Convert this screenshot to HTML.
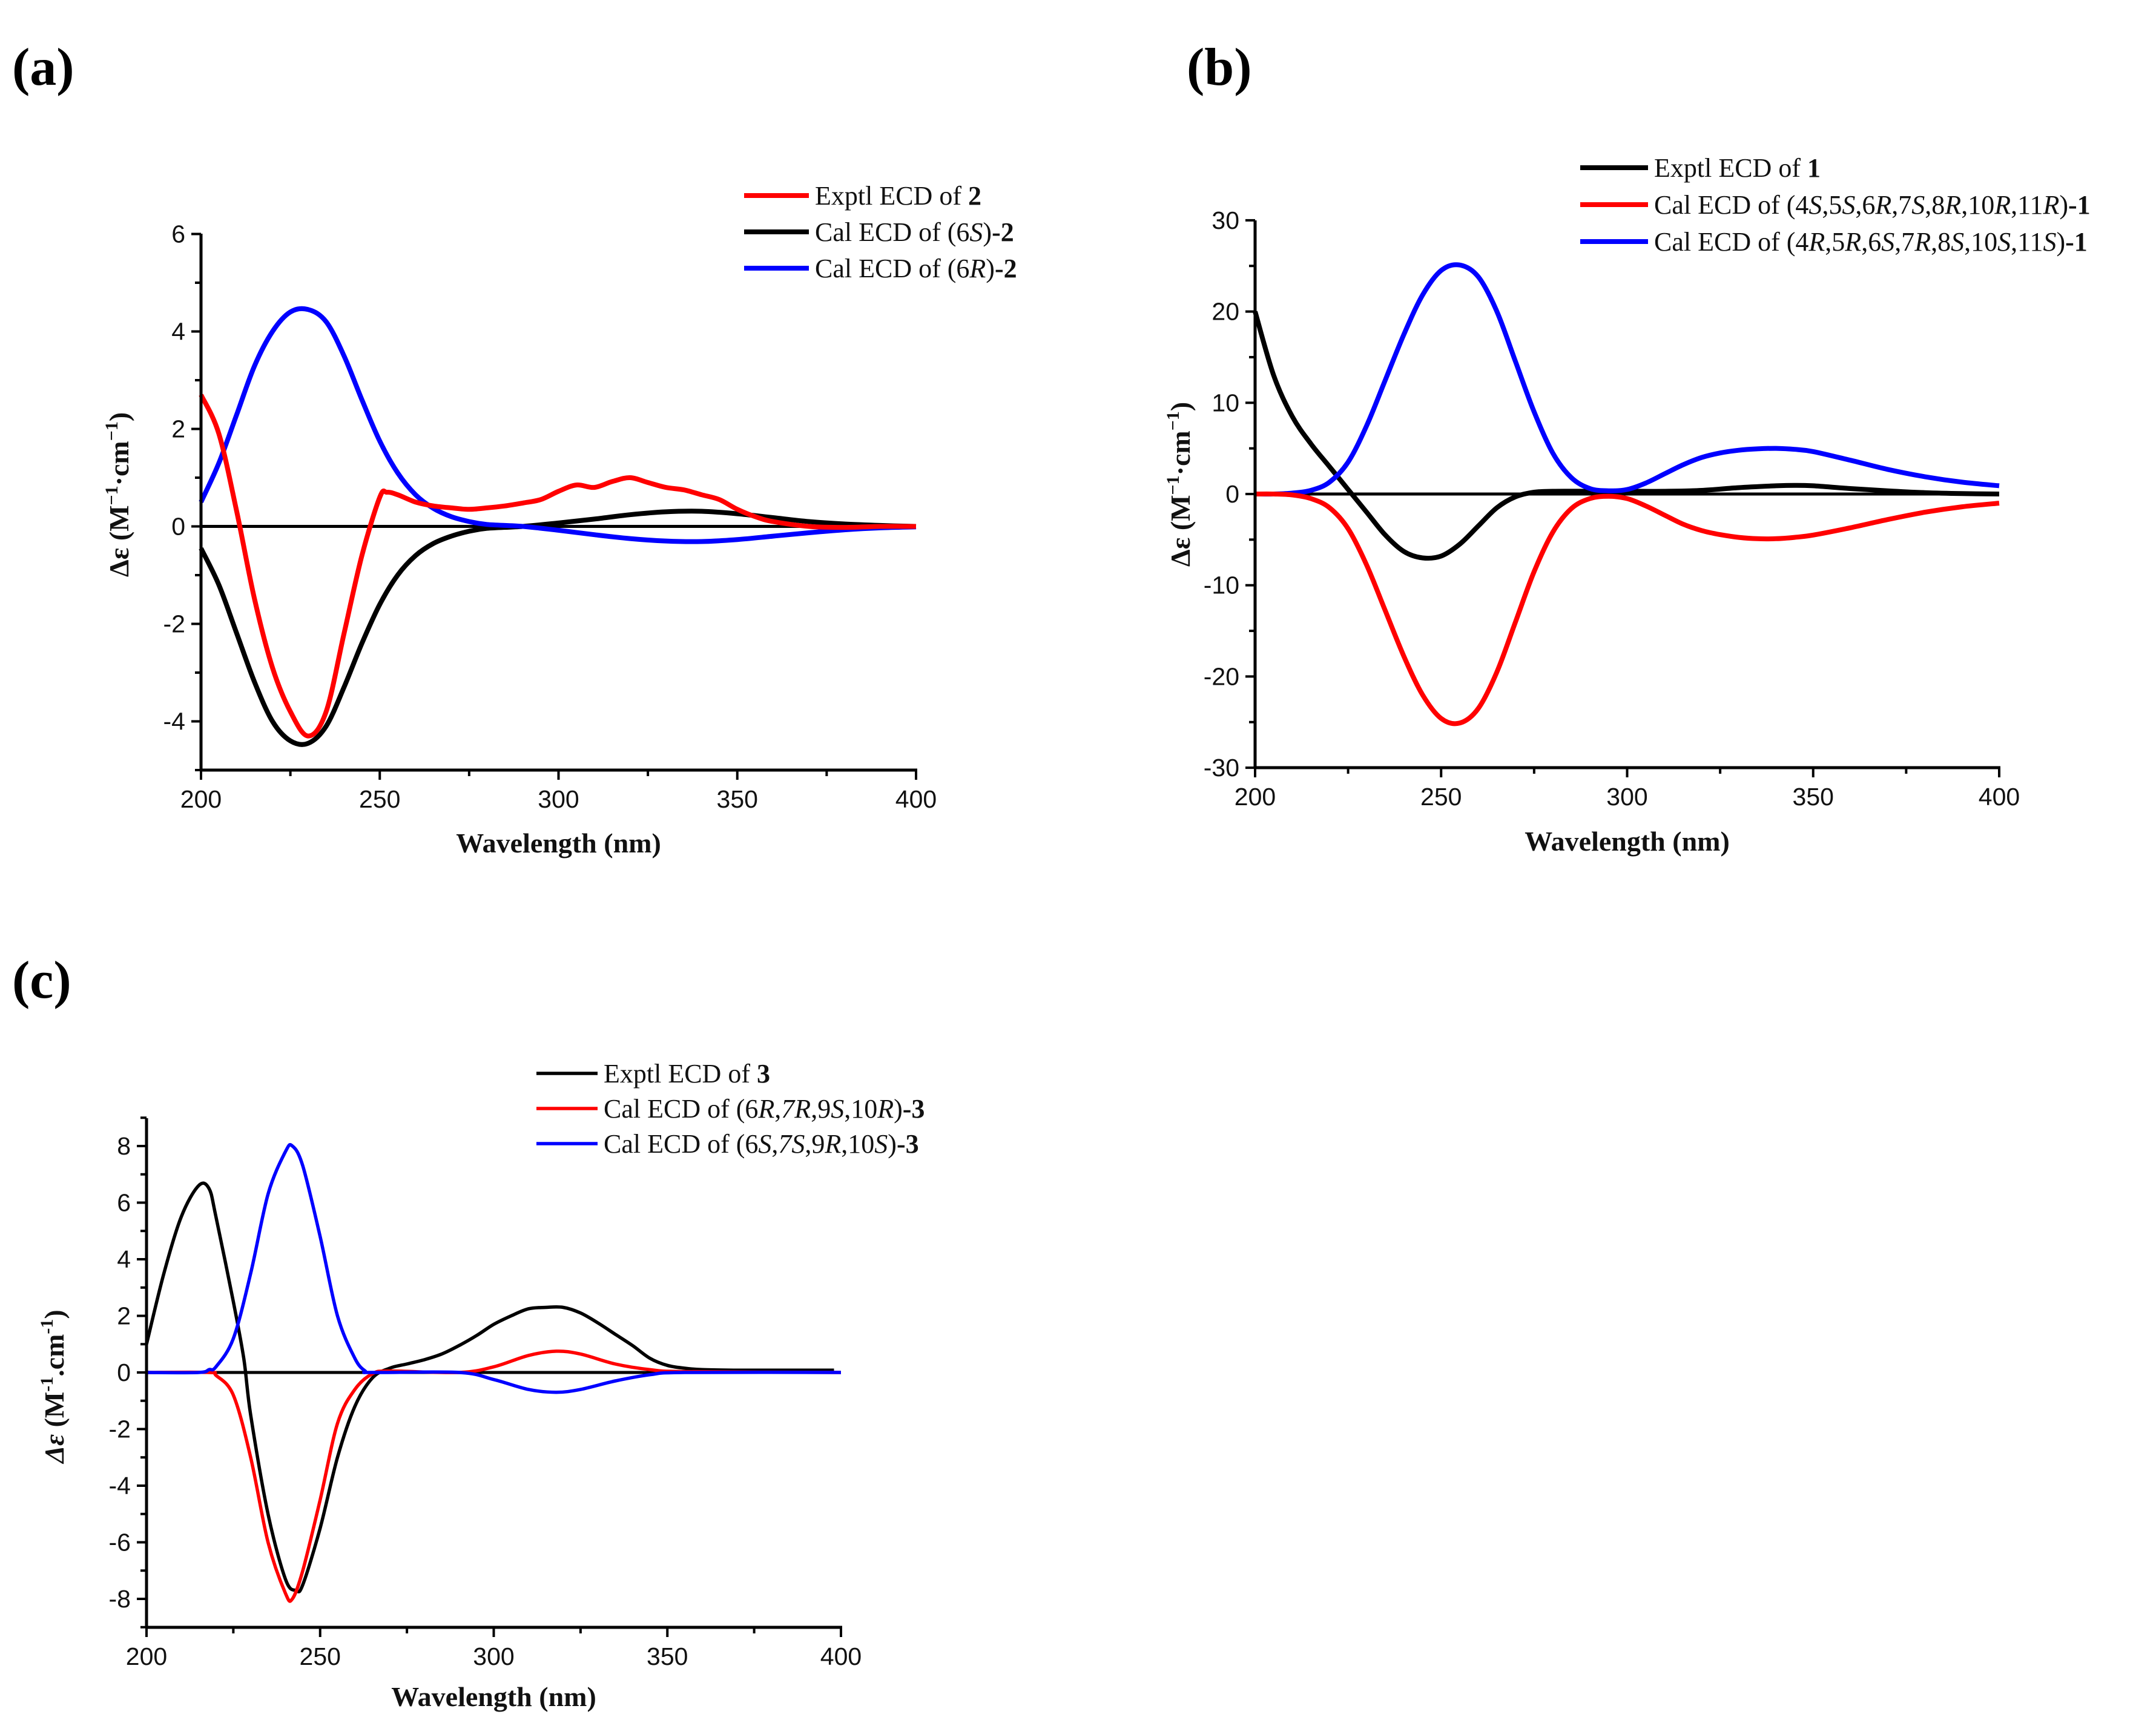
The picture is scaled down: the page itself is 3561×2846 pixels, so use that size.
<!DOCTYPE html>
<html><head><meta charset="utf-8">
<style>
html,body{margin:0;padding:0;background:#fff;}
svg{display:block;}
.tick{font-family:"Liberation Sans",Arial,sans-serif;font-size:41px;fill:#111;}
.leg{font-family:"Liberation Serif",serif;font-size:44px;fill:#111;}
.ttl{font-family:"Liberation Serif",serif;font-size:46px;font-weight:bold;fill:#111;}
.plab{font-family:"Liberation Serif",serif;font-size:88px;font-weight:bold;fill:#000;}
</style></head>
<body>
<svg id="fig" width="3561" height="2846" viewBox="0 0 3561 2846" xmlns="http://www.w3.org/2000/svg">
<text class="plab" x="20" y="140">(a)</text>
<text class="plab" x="1960" y="140">(b)</text>
<text class="plab" x="20" y="1648">(c)</text>
</svg>
<script>
// ---------- Panel (a) data ----------
const aRedX = [200,205,210,215,220,225,230,235,240,245,250,252,255,260,265,270,275,280,285,290,295,300,305,310,315,320,325,330,335,340,345,350,355,360,370,380,390,400];
const aRedY = [2.7,1.9,0.3,-1.5,-2.9,-3.8,-4.3,-3.8,-2.2,-0.6,0.6,0.7,0.65,0.5,0.42,0.38,0.35,0.38,0.42,0.48,0.55,0.72,0.85,0.8,0.92,1.0,0.9,0.8,0.75,0.65,0.55,0.35,0.2,0.1,0.0,-0.02,0.0,0.0];
const aBlackX = [200,205,210,215,220,225,230,235,240,245,250,255,260,265,270,275,280,290,300,310,320,330,340,350,360,370,380,390,400];
const aBlackY = [-0.45,-1.2,-2.2,-3.2,-4.0,-4.4,-4.45,-4.1,-3.3,-2.4,-1.6,-1.0,-0.6,-0.35,-0.2,-0.1,-0.04,0.0,0.07,0.15,0.24,0.3,0.31,0.26,0.18,0.1,0.05,0.02,0.0];
const aBlueX = [200,205,210,215,220,225,230,235,240,245,250,255,260,265,270,275,280,290,300,310,320,330,340,350,360,370,380,390,400];
const aBlueY = [0.5,1.3,2.3,3.3,4.0,4.4,4.45,4.2,3.5,2.6,1.75,1.1,0.65,0.37,0.2,0.1,0.04,0.0,-0.08,-0.17,-0.25,-0.3,-0.31,-0.27,-0.2,-0.13,-0.07,-0.03,-0.01];
const aYTicks = [-4,-2,0,2,4,6];
const aXTicks = [200,250,300,350,400];
// ---------- Panel (b) data ----------
const bBlackX = [200,205,210,215,220,225,230,235,240,245,250,255,260,265,270,275,280,290,300,310,320,330,340,345,350,360,370,380,390,400];
const bBlackY = [20,13,8.5,5.5,3,0.5,-2,-4.5,-6.3,-7,-6.8,-5.5,-3.5,-1.5,-0.3,0.2,0.3,0.3,0.3,0.3,0.4,0.7,0.9,0.95,0.9,0.6,0.35,0.15,0.05,0];
const bRedX = [200,205,210,215,220,225,230,235,240,245,250,255,260,265,270,275,280,285,290,295,300,305,310,315,320,325,330,335,340,345,350,360,370,380,390,400];
const bRedY = [0,0,-0.1,-0.5,-1.5,-3.8,-7.8,-12.8,-17.8,-22,-24.6,-25.1,-23.5,-19.5,-14,-8.5,-4.2,-1.6,-0.5,-0.25,-0.5,-1.3,-2.3,-3.3,-4.0,-4.45,-4.75,-4.9,-4.9,-4.75,-4.5,-3.7,-2.8,-2.0,-1.4,-1.0];
const bBlueX = [200,205,210,215,220,225,230,235,240,245,250,255,260,265,270,275,280,285,290,295,300,305,310,315,320,325,330,335,340,345,350,360,370,380,390,400];
const bBlueY = [0,0,0.1,0.4,1.3,3.5,7.5,12.5,17.5,21.8,24.5,25.1,23.8,20,14.5,9,4.5,1.8,0.6,0.35,0.5,1.2,2.2,3.2,4.0,4.5,4.8,4.95,5.0,4.9,4.65,3.7,2.7,1.9,1.3,0.9];
const bYTicks = [-30,-20,-10,0,10,20,30];
const bXTicks = [200,250,300,350,400];
// ---------- Panel (c) data ----------
const cBlackX = [200,205,210,215,218,220,225,228,230,235,240,243,245,250,255,260,265,270,275,280,285,290,295,300,305,310,315,320,325,330,335,340,345,350,355,360,370,380,390,398];
const cBlackY = [1.0,3.5,5.5,6.6,6.5,5.5,2.5,0.5,-1.5,-5.0,-7.3,-7.7,-7.5,-5.5,-3.0,-1.2,-0.2,0.15,0.3,0.45,0.65,0.95,1.3,1.7,2.0,2.25,2.3,2.3,2.1,1.75,1.35,0.95,0.5,0.25,0.15,0.1,0.08,0.08,0.08,0.08];
const cRedX = [200,218,220,225,230,235,240,242,245,250,255,260,265,270,290,300,310,318,325,335,345,355,400];
const cRedY = [0,0,-0.1,-0.8,-3.0,-6.0,-7.8,-8.0,-7.0,-4.5,-1.8,-0.6,-0.05,0.05,0,0.2,0.6,0.75,0.65,0.3,0.1,0.03,0];
const cBlueX = [200,215,218,220,225,230,235,240,242,245,250,255,260,263,265,290,300,310,318,325,335,345,355,400];
const cBlueY = [0,0,0.1,0.2,1.2,3.5,6.3,7.8,8.0,7.3,4.8,2.0,0.5,0.05,0,0,-0.25,-0.6,-0.7,-0.6,-0.3,-0.08,0,0];
const cYTicks = [-8,-6,-4,-2,0,2,4,6,8];
const cXTicks = [200,250,300,350,400];

const NS = "http://www.w3.org/2000/svg";
const svg = document.getElementById('fig');
function mk(tag, attrs, parent){
  const e = document.createElementNS(NS, tag);
  for (const k in attrs) e.setAttribute(k, attrs[k]);
  (parent||svg).appendChild(e);
  return e;
}
function smooth(pts){
  let d = "M" + pts[0][0].toFixed(1) + "," + pts[0][1].toFixed(1);
  for (let i=0;i<pts.length-1;i++){
    const p0 = pts[Math.max(0,i-1)], p1 = pts[i], p2 = pts[i+1], p3 = pts[Math.min(pts.length-1,i+2)];
    const c1x = p1[0]+(p2[0]-p0[0])/6, c1y = p1[1]+(p2[1]-p0[1])/6;
    const c2x = p2[0]-(p3[0]-p1[0])/6, c2y = p2[1]-(p3[1]-p1[1])/6;
    d += " C"+c1x.toFixed(1)+","+c1y.toFixed(1)+" "+c2x.toFixed(1)+","+c2y.toFixed(1)+" "+p2[0].toFixed(1)+","+p2[1].toFixed(1);
  }
  return d;
}
function panel(P){
  const g = mk('g', {});
  
  
  const sx = v => P.x0 + (v-200)/(200)*(P.x1-P.x0);
  const sy = v => P.yZero - v*P.ppu;
  const z = mk('line', {x1:P.x0, x2:P.x1, y1:sy(0), y2:sy(0), stroke:'#000', 'stroke-width':P.zw}, g);
  
  
  P.series.forEach(s=>{
    const pts = s.x.map((xv,i)=>[sx(xv), sy(s.y[i])]);
    const p = mk('path', {d:smooth(pts), fill:'none', stroke:s.c, 'stroke-width':P.lw, 'stroke-linejoin':'round'}, g);
    
    
  });
  const ya = mk('line', {x1:P.x0, x2:P.x0, y1:P.yTop, y2:P.yBot, stroke:'#000', 'stroke-width':5}, g);
  
  
  const xa = mk('line', {x1:P.x0-2, x2:P.x1+2, y1:P.yBot, y2:P.yBot, stroke:'#000', 'stroke-width':5}, g);
  
  
  for (let v=200; v<=400; v+=25){
    const maj = v%50===0;
    mk('line', {x1:sx(v), x2:sx(v), y1:P.yBot, y2:P.yBot+(maj?16:10), stroke:'#000','stroke-width':4}, g);
  }
  P.xt.forEach(v=>{
    const t = mk('text', {class:'tick', x:sx(v), y:P.yBot+62, 'text-anchor':'middle'}, g);
    t.textContent = v;
    
    
  });
  for (let v=P.ymin; v<=P.ymax+1e-9; v+=P.minor){
    const yy = sy(v);
    if (yy < P.yTop-2 || yy > P.yBot+2) continue;
    const maj = Math.abs(Math.round(v/P.major)*P.major - v) < 1e-6;
    mk('line', {x1:P.x0-(maj?16:10), x2:P.x0, y1:yy, y2:yy, stroke:'#000','stroke-width':4}, g);
  }
  P.yt.forEach(v=>{
    const t = mk('text', {class:'tick', x:P.x0-26, y:sy(v)+14, 'text-anchor':'end'}, g);
    t.textContent = v;
    
    
  });
  const xt = mk('text', {class:'ttl', x:(P.x0+P.x1)/2, y:P.xTitleY, 'text-anchor':'middle'}, g);
  xt.textContent = 'Wavelength (nm)';
  
  
  const yt = mk('text', {class:'ttl', x:0, y:0, 'text-anchor':'middle', transform:'translate('+P.yTitleX+','+P.yTitleY+') rotate(-90)'}, g);
  yt.innerHTML = P.yTitle;
  
  
  P.legend.forEach((L,i)=>{
    const yy = P.legY + i*P.legDy;
    const ln = mk('line', {x1:P.legX0, x2:P.legX1, y1:yy, y2:yy, stroke:L.c, 'stroke-width':P.lw}, g);
    
    
    const t = mk('text', {class:'leg', x:P.legX1+10, y:yy+15}, g);
    t.innerHTML = L.t;
    
    
  });
}
const B = s => '<tspan font-weight="bold">'+s+'</tspan>';
const I = s => '<tspan font-style="italic">'+s+'</tspan>';
const yTitleStd = 'Δε (M<tspan dy="-18" font-size="30">−1</tspan><tspan dy="18">·cm</tspan><tspan dy="-18" font-size="30">−1</tspan><tspan dy="18">)</tspan>';

panel({id:'panel-a', x0:332, x1:1513, yZero:869.5, ppu:80.5, yTop:386, yBot:1272, ymin:-5, ymax:6, major:2, minor:1,
  xt:aXTicks, yt:aYTicks, lw:8, zw:5, xTitleY:1408, yTitleX:212, yTitleY:817, yTitle:yTitleStd,
  series:[{x:aBlackX,y:aBlackY,c:'#000',name:'series-cal-6s'},{x:aBlueX,y:aBlueY,c:'#0000ff',name:'series-cal-6r'},{x:aRedX,y:aRedY,c:'#ff0000',name:'series-exptl-2'}],
  legX0:1229, legX1:1336, legY:323, legDy:60,
  legend:[{c:'#ff0000',t:'Exptl ECD of '+B('2')},{c:'#000',t:'Cal ECD of (6'+I('S')+')'+B('-2')},{c:'#0000ff',t:'Cal ECD of (6'+I('R')+')'+B('-2')}]});

panel({id:'panel-b', x0:2073, x1:3302, yZero:816, ppu:15.07, yTop:364, yBot:1268, ymin:-30, ymax:30, major:10, minor:5,
  xt:bXTicks, yt:bYTicks, lw:8, zw:5, xTitleY:1405, yTitleX:1965, yTitleY:800, yTitle:yTitleStd,
  series:[{x:bBlackX,y:bBlackY,c:'#000',name:'series-exptl-1'},{x:bBlueX,y:bBlueY,c:'#0000ff',name:'series-cal-4r5r'},{x:bRedX,y:bRedY,c:'#ff0000',name:'series-cal-4s5s'}],
  legX0:2610, legX1:2722, legY:277, legDy:61,
  legend:[{c:'#000',t:'Exptl ECD of '+B('1')},{c:'#ff0000',t:'Cal ECD of (4'+I('S')+',5'+I('S')+',6'+I('R')+',7'+I('S')+',8'+I('R')+',10'+I('R')+',11'+I('R')+')'+B('-1')},{c:'#0000ff',t:'Cal ECD of (4'+I('R')+',5'+I('R')+',6'+I('S')+',7'+I('R')+',8'+I('S')+',10'+I('S')+',11'+I('S')+')'+B('-1')}]});

panel({id:'panel-c', x0:242, x1:1389, yZero:2267, ppu:46.75, yTop:1847, yBot:2688, ymin:-9, ymax:9, major:2, minor:1,
  xt:cXTicks, yt:cYTicks, lw:5.5, zw:5, xTitleY:2818, yTitleX:105, yTitleY:2290,
  yTitle:'<tspan font-style="italic">Δε</tspan> (M<tspan dy="-18" font-size="30">-1</tspan><tspan dy="18">.cm</tspan><tspan dy="-18" font-size="30">-1</tspan><tspan dy="18">)</tspan>',
  series:[{x:cBlackX,y:cBlackY,c:'#000',name:'series-exptl-3'},{x:cRedX,y:cRedY,c:'#ff0000',name:'series-cal-6r7r'},{x:cBlueX,y:cBlueY,c:'#0000ff',name:'series-cal-6s7s'}],
  legX0:886, legX1:987, legY:1773, legDy:58,
  legend:[{c:'#000',t:'Exptl ECD of '+B('3')},{c:'#ff0000',t:'Cal ECD of (6'+I('R')+','+I('7R')+',9'+I('S')+',10'+I('R')+')'+B('-3')},{c:'#0000ff',t:'Cal ECD of (6'+I('S')+','+I('7S')+',9'+I('R')+',10'+I('S')+')'+B('-3')}]});
</script>
</body></html>
